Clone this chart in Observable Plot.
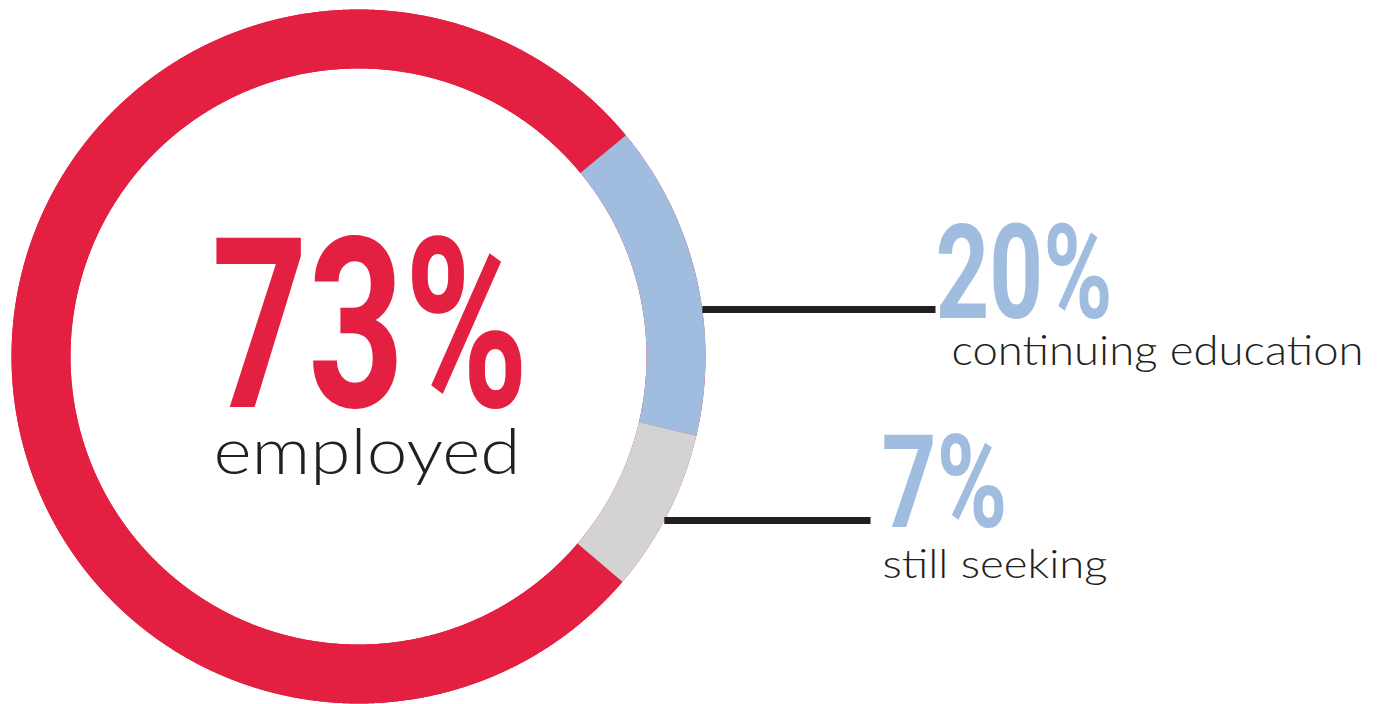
<!DOCTYPE html>
<html>
<head>
<meta charset="utf-8">
<script src="https://cdn.jsdelivr.net/npm/d3@7"></script>
<script src="https://cdn.jsdelivr.net/npm/@observablehq/plot@0.6"></script>
<style>
  html, body { margin: 0; padding: 0; background: #fff; overflow: hidden; }
  #chart svg { display: block; }
</style>
</head>
<body>
<div id="chart"></div>
<script>
// ---- data ----
const categories = ["employed", "continuing education", "still seeking"];
const percentLabels = ["73%", "20%", "7%"];
// share of the ring each arc occupies, as drawn in the picture (percent of 360°)
const arcShares = [77.75, 14.67, 7.58];
// angle (degrees clockwise from 12 o'clock) where the "employed" arc begins
const startAngle = 130.5;
const colors = ["#e31f42", "#a0bde0", "#d3d3d3"];

// ---- layout ----
const W = 1377, H = 704;
const cx = 358, cy = 356, R = 347, rIn = 288;
const u = v => v / R;                 // pixels -> ring units
const rMid = (R + rIn) / 2 / R;
const ringWidth = R - rIn;
const dark = "#231f20";
const condensed = "Roboto, 'DejaVu Sans Condensed', sans-serif";
const light = "Lato, 'Open Sans', 'Noto Sans', sans-serif";

function arcPoints(a0, a1) {
  const n = Math.max(2, Math.ceil((a1 - a0) / 0.25) + 1);
  return d3.range(n).map(i => {
    const a = (a0 + (a1 - a0) * i / (n - 1)) * Math.PI / 180;
    return {x: rMid * Math.sin(a), y: rMid * Math.cos(a)};
  });
}

let acc = startAngle;
const segments = arcShares.map((s, i) => {
  const a0 = acc, a1 = acc + s * 3.6;
  acc = a1;
  return {name: categories[i], a0, a1, color: colors[i]};
});

// leader lines (employed has none)
const leaderY = [u(cy - 309), u(cy - 520)];
const leaderEnd = [u(935 - cx), u(870 - cx)];
const leaders = leaderY.map((y, i) => ({
  y, x1: Math.sqrt(1 - y * y), x2: leaderEnd[i]
}));

// text placement (left x, baseline y, px size, family, weight, fill, width)
const textItems = [
  {text: percentLabels[0], px: 211, base: 406, size: 238, font: condensed, weight: 700, fill: colors[0], len: 317},
  {text: categories[0],   px: 213, base: 473, size: 63,  font: light,     weight: 300, fill: dark,      len: 307},
  {text: percentLabels[1], px: 935, base: 317, size: 132, font: condensed, weight: 700, fill: colors[1], len: 177},
  {text: categories[1],   px: 951, base: 364, size: 42,  font: light,     weight: 300, fill: dark,      len: 412},
  {text: percentLabels[2], px: 881, base: 526, size: 129, font: condensed, weight: 700, fill: colors[1], len: 126},
  {text: categories[2],   px: 882, base: 577, size: 40,  font: light,     weight: 300, fill: dark,      len: 225}
].map(d => ({...d, x: u(d.px - cx), y: u(cy - d.base)}));

const marks = [
  // base ring (total)
  Plot.line(arcPoints(0, 360), {x: "x", y: "y", stroke: colors[0], strokeWidth: ringWidth, strokeLinecap: "butt"}),
  ...segments.map(s =>
    Plot.line(arcPoints(s.a0, s.a1), {x: "x", y: "y", stroke: s.color, strokeWidth: ringWidth, strokeLinecap: "butt", strokeLinejoin: "round"})
  ),
  Plot.link(leaders, {x1: "x1", y1: "y", x2: "x2", y2: "y", stroke: dark, strokeWidth: 7}),
  ...textItems.map(d =>
    Plot.text([d], {x: "x", y: "y", text: "text", textAnchor: "start", lineAnchor: "bottom",
      fontSize: d.size, fontFamily: d.font, fontWeight: d.weight, fill: d.fill})
  )
];

const svg = Plot.plot({
  width: W, height: H, margin: 0,
  x: {domain: [u(-cx), u(W - cx)], axis: null},
  y: {domain: [u(cy - H), u(cy)], axis: null},
  style: {background: "#fff", overflow: "visible"},
  marks
});

// fit widths of the texts
const textEls = svg.querySelectorAll('g[aria-label="text"] text');
textEls.forEach((el, i) => {
  const d = textItems[i];
  if (!d) return;
  el.setAttribute("textLength", d.len);
  el.setAttribute("lengthAdjust", "spacingAndGlyphs");
});

document.getElementById("chart").appendChild(svg);
</script>
</body>
</html>
